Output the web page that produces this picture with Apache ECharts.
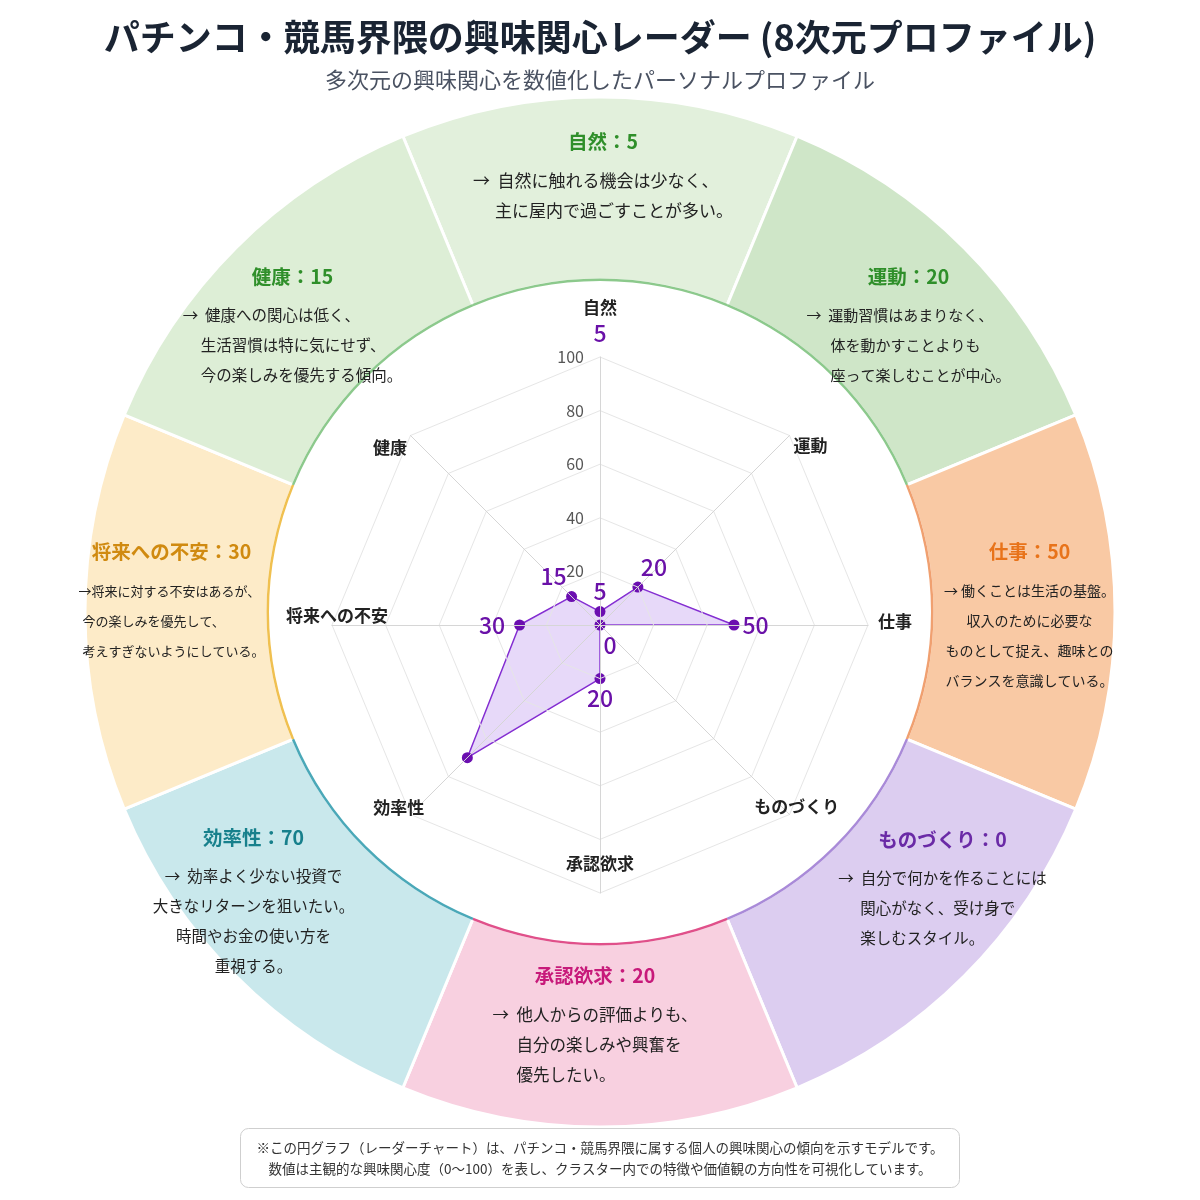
<!DOCTYPE html>
<html>
<head>
<meta charset="utf-8">
<title>興味関心レーダー</title>
<style>
    html, body { margin: 0; padding: 0; background: #fff; }
    #main { width: 1200px; height: 1200px; }
</style>
<script src="https://cdn.jsdelivr.net/npm/echarts@6/dist/echarts.min.js"></script>
</head>
<body>
<div id="main"></div>
<script>
// 時計回り（上の「自然」から）
var categories = ['自然', '運動', '仕事', 'ものづくり', '承認欲求', '効率性', '将来への不安', '健康'];
var values = [5, 20, 50, 0, 20, 70, 30, 15];
var radarMax = 100;

var notes = [
    ['→  自然に触れる機会は少なく、', '主に屋内で過ごすことが多い。'],
    ['→  運動習慣はあまりなく、', '体を動かすことよりも', '座って楽しむことが中心。'],
    ['→ 働くことは生活の基盤。', '収入のために必要な', 'ものとして捉え、趣味との', 'バランスを意識している。'],
    ['→  自分で何かを作ることには', '関心がなく、受け身で', '楽しむスタイル。'],
    ['→  他人からの評価よりも、', '自分の楽しみや興奮を', '優先したい。'],
    ['→  効率よく少ない投資で', '大きなリターンを狙いたい。', '時間やお金の使い方を', '重視する。'],
    ['→将来に対する不安はあるが、', '今の楽しみを優先して、', '考えすぎないようにしている。'],
    ['→  健康への関心は低く、', '生活習慣は特に気にせず、', '今の楽しみを優先する傾向。']
];

var titleText = 'パチンコ・競馬界隈の興味関心レーダー (8次元プロファイル)';
var subText = '多次元の興味関心を数値化したパーソナルプロファイル';
var footerLines = [
    '※この円グラフ（レーダーチャート）は、パチンコ・競馬界隈に属する個人の興味関心の傾向を示すモデルです。',
    '数値は主観的な興味関心度（0〜100）を表し、クラスター内での特徴や価値観の方向性を可視化しています。'
];

// 見た目の設定（時計回りの順）
var sectorColors = ['#e2f0dc', '#cfe6c8', '#f9c9a4', '#dccdf0', '#f8d0e0', '#c9e8ec', '#fdebc8', '#ddeed6'];
var titleColors = ['#2f8f2a', '#2f8f2a', '#e8731a', '#6a2aa6', '#c71a7a', '#17808c', '#d08a10', '#2f8f2a'];
var edgeColors = ['#8cc98c', '#8cc98c', '#f0a070', '#a98ad8', '#e0508a', '#4aa8b8', '#f0c050', '#8cc98c'];
var descSizes = [17, 15, 14, 15.5, 16.5, 15.5, 13, 15.5];
var descAlign = ['left', 'left', 'center', 'left', 'left', 'center', 'left', 'left'];
var descIndent = [22, 24, 0, 22, 24, 0, 4, 18];
var labelShift = [[3, -14], [7, 11], [3, 0], [41, -29], [-5, -18], [-45, -16], [-2, -15], [-6, 11]];
var nameGaps = [32, 7, 27, -1, -29, 4, -5, 5];
var nameShift = [[0, 0], [16, 15], [0, -3], [8, -7], [0, 0], [-9, -10], [0, -9], [-17, 16]];
// 数値ラベルの位置（null は非表示）
var labelPos = [
    { position: 'top', offset: [0, 0] },
    { position: 'top', offset: [16, 0] },
    { position: 'right', offset: [0, 0] },
    { position: 'bottom', offset: [10, 0] },
    { position: 'bottom', offset: [0, 0] },
    null,
    { position: 'left', offset: [-6, 0] },
    { position: 'top', offset: [-18, 0] }
];

var FONT = "'Noto Sans CJK JP', 'Noto Sans', sans-serif";
var PURPLE = '#6a11a8';

function shiftPadding(s) {
    var dx = s[0], dy = s[1];
    return [Math.max(0, 2 * dy), Math.max(0, -2 * dx), Math.max(0, -2 * dy), Math.max(0, 2 * dx)];
}

(function () {
    var chart = echarts.init(document.getElementById('main'));

    // radar は反時計回りに並ぶので並び替え
    var ccw = [0, 7, 6, 5, 4, 3, 2, 1];

    var indicators = ccw.map(function (i, n) {
        var ind = {
            name: categories[i],
            min: 0,
            max: radarMax,
            nameGap: nameGaps[i],
            nameTextStyle: {
                align: 'center',
                verticalAlign: 'middle',
                padding: shiftPadding(nameShift[i])
            }
        };
        if (n === 0) {
            ind.axisLabel = {
                show: true,
                showMinLabel: false,
                color: '#555',
                fontSize: 16,
                margin: 16,
                fontFamily: FONT
            };
        }
        return ind;
    });

    var ringData = categories.map(function (name, i) {
        return {
            name: name,
            value: 1,
            itemStyle: { color: sectorColors[i] },
            label: {
                padding: shiftPadding(labelShift[i]),
                rich: {
                    t: { color: titleColors[i], fontSize: 19.5, fontWeight: 'bold', lineHeight: 48, fontFamily: FONT, align: 'center' },
                    d: { color: '#222', fontSize: descSizes[i], lineHeight: 30, fontFamily: FONT, align: descAlign[i] },
                    i: { width: descIndent[i], lineHeight: 30, align: descAlign[i] }
                }
            }
        };
    });

    var edgeData = categories.map(function (name, i) {
        return { name: name, value: 1, itemStyle: { color: edgeColors[i] } };
    });

    var series = [
        {
            type: 'pie',
            z: 1,
            center: [600, 612],
            radius: [332, 515],
            startAngle: 112.5,
            clockwise: true,
            silent: true,
            itemStyle: { borderColor: '#fff', borderWidth: 3 },
            label: {
                show: true,
                position: 'inside',
                rotate: 0,
                formatter: function (p) {
                    var i = p.dataIndex;
                    var lines = notes[i].map(function (l, n) {
                        var pre = (n > 0 && descIndent[i] > 0) ? '{i| }' : '';
                        return pre + '{d|' + l + '}';
                    });
                    return '{t|' + categories[i] + '：' + values[i] + '}\n' + lines.join('\n');
                }
            },
            labelLine: { show: false },
            emphasis: { disabled: true },
            data: ringData
        },
        {
            type: 'pie',
            z: 1,
            center: [600, 612],
            radius: [331, 333.5],
            startAngle: 112.5,
            clockwise: true,
            silent: true,
            label: { show: false },
            labelLine: { show: false },
            emphasis: { disabled: true },
            data: edgeData
        },
        {
            type: 'radar',
            silent: true,
            symbol: 'circle',
            symbolSize: 11,
            itemStyle: { color: '#6b0fb0' },
            lineStyle: { color: '#7e22ce', width: 1.5 },
            areaStyle: { color: 'rgba(170,120,235,0.4)' },
            data: [{ value: ccw.map(function (i) { return values[i]; }) }]
        }
    ];

    // 各頂点の数値ラベル（位置を個別に指定するため1頂点ずつ）
    categories.forEach(function (name, k) {
        if (!labelPos[k]) return;
        series.push({
            type: 'radar',
            silent: true,
            z: 4,
            symbol: 'circle',
            symbolSize: 1,
            itemStyle: { color: 'rgba(0,0,0,0)' },
            lineStyle: { width: 0, opacity: 0 },
            label: {
                show: true,
                position: labelPos[k].position,
                offset: labelPos[k].offset,
                distance: 8,
                color: PURPLE,
                fontSize: 23,
                fontWeight: 500,
                fontFamily: FONT,
                formatter: function (p) {
                    var v = p.value;
                    if (v === '-' || v == null || (typeof v === 'number' && isNaN(v))) return '';
                    return String(v);
                }
            },
            data: [{
                value: ccw.map(function (i) { return i === k ? values[i] : '-'; })
            }]
        });
    });

    var option = {
        backgroundColor: '#fff',
        animation: false,
        textStyle: { fontFamily: FONT },
        title: [
            {
                text: titleText,
                subtext: subText,
                left: 'center',
                top: 12,
                itemGap: 11,
                textStyle: { fontSize: 36, fontWeight: 'bold', color: '#1a2433', lineHeight: 40, fontFamily: FONT },
                subtextStyle: { fontSize: 22, color: '#4a5262', lineHeight: 24, fontFamily: FONT }
            },
            {
                text: footerLines.join('\n'),
                left: 'center',
                top: 1128,
                padding: [9, 16],
                borderColor: '#cfcfcf',
                borderWidth: 1,
                borderRadius: 8,
                textStyle: { fontSize: 13.5, fontWeight: 'normal', color: '#333', lineHeight: 21, fontFamily: FONT }
            }
        ],
        radar: {
            z: 3,
            center: [600, 625],
            radius: 268,
            shape: 'polygon',
            splitNumber: 5,
            indicator: indicators,
            axisName: {
                color: '#222',
                fontSize: 17,
                fontWeight: 'bold',
                fontFamily: FONT,
                formatter: function (name) {
                    if (name === categories[0]) {
                        return name + '\n{v|' + values[0] + '}';
                    }
                    return name;
                },
                rich: {
                    v: { color: PURPLE, fontSize: 23, fontWeight: 500, lineHeight: 34, fontFamily: FONT }
                }
            },
            axisLine: { lineStyle: { color: '#d6d6d6' } },
            splitLine: { lineStyle: { color: '#e6e6e6' } },
            splitArea: { show: false },
            axisTick: { show: false },
            axisLabel: { show: false }
        },
        series: series
    };

    chart.setOption(option);
})();
</script>
</body>
</html>
